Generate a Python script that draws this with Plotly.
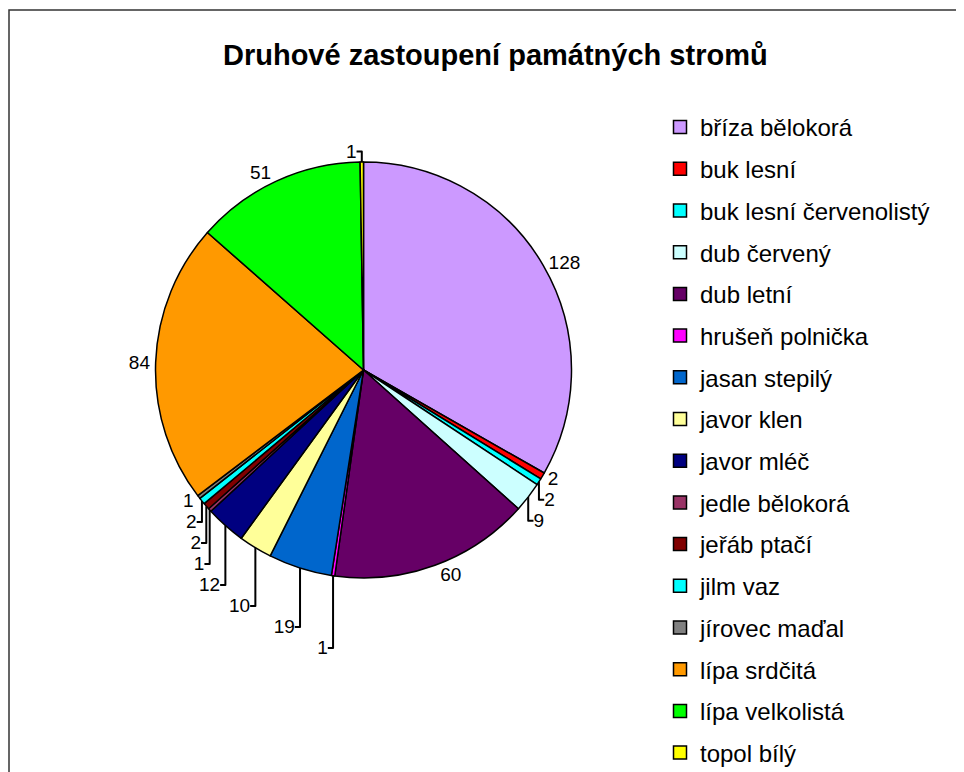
import plotly.graph_objects as go

categories = ["bříza bělokorá", "buk lesní", "buk lesní červenolistý", "dub červený",
              "dub letní", "hrušeň polnička", "jasan stepilý", "javor klen", "javor mléč",
              "jedle bělokorá", "jeřáb ptačí", "jilm vaz", "jírovec maďal", "lípa srdčitá",
              "lípa velkolistá", "topol bílý"]
values = [128, 2, 2, 9, 60, 1, 19, 10, 12, 1, 2, 2, 1, 84, 51, 1]
colors = ["#CC99FF", "#FF0000", "#00FFFF", "#CCFFFF", "#660066", "#FF00FF", "#0066CC",
          "#FFFF99", "#000080", "#993366", "#800000", "#00FFFF", "#808080", "#FF9900",
          "#00FF00", "#FFFF00"]
title = "Druhové zastoupení památných stromů"

FONT = "Arial, Liberation Sans, sans-serif"
W, H = 964, 772
OFF = 8  # page body margin
cx, cy, r = 363.5 - OFF, 370 - OFF, 208

fig = go.Figure()
fig.add_trace(go.Pie(
    labels=categories, values=values, sort=False, direction="clockwise", rotation=0,
    marker=dict(colors=colors, line=dict(color="black", width=1.5)),
    textinfo="value", textposition="outside",
    textfont=dict(family=FONT, size=19, color="black"),
    showlegend=False, hoverinfo="label+value", automargin=False,
    domain=dict(x=[(cx - r) / W, (cx + r) / W], y=[(H - cy - r) / H, (H - cy + r) / H]),
))

# legend entries (one group each so spacing matches)
for i, (c, col) in enumerate(zip(categories, colors)):
    fig.add_trace(go.Scatter(
        x=[None], y=[None], mode="markers", name=c, legendgroup=f"g{i}",
        marker=dict(symbol="square", size=13, color=col, line=dict(color="black", width=1.5)),
        showlegend=True, hoverinfo="skip",
    ))

fig.update_layout(
    width=W, height=H,
    margin=dict(l=0, r=0, t=0, b=0, autoexpand=False),
    paper_bgcolor="white", plot_bgcolor="white",
    font=dict(family=FONT, color="black"),
    xaxis=dict(visible=False), yaxis=dict(visible=False),
    legend=dict(x=652 / W, y=1 - 97 / H, xanchor="left", yanchor="top",
                font=dict(family=FONT, size=24, color="black"),
                tracegroupgap=7.5, bgcolor="rgba(0,0,0,0)", itemclick=False),
    annotations=[dict(text=f"<b>{title}</b>", x=(495 - OFF) / W, y=1 - (55 - OFF) / H,
                      xref="paper", yref="paper",
                      xanchor="center", yanchor="middle", showarrow=False,
                      font=dict(family=FONT, size=29, color="black"))],
    shapes=[dict(type="rect", xref="paper", yref="paper", x0=(9 - OFF) / W, x1=(960 - OFF) / W,
                 y0=-0.05, y1=1 - (10 - OFF) / H, line=dict(color="#333333", width=1.5))],
)

fig.write_html("out.html")
